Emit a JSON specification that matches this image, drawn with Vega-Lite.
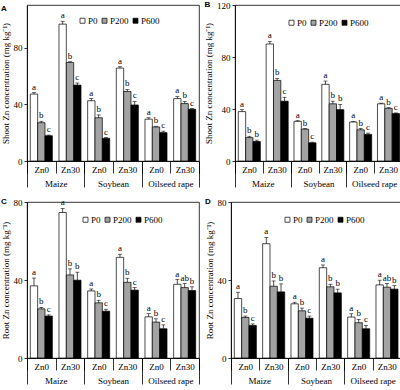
{
  "$schema": "https://vega.github.io/schema/vega-lite/v6.json",
  "padding": {"left": 0, "top": 0, "right": 2, "bottom": 0},
  "background": "white",
  "datasets": {
    "A": [
      {"sp":"Maize","g":"Maize|Zn0","P":"P0","v":47.2,"hi":48.2,"l":"a"},
      {"sp":"Maize","g":"Maize|Zn0","P":"P200","v":27,"hi":28,"l":"b"},
      {"sp":"Maize","g":"Maize|Zn0","P":"P600","v":17.8,"hi":18.3,"l":"c"},
      {"sp":"Maize","g":"Maize|Zn30","P":"P0","v":96.5,"hi":98.5,"l":"a"},
      {"sp":"Maize","g":"Maize|Zn30","P":"P200","v":69.5,"hi":70,"l":"b"},
      {"sp":"Maize","g":"Maize|Zn30","P":"P600","v":53.5,"hi":55,"l":"c"},
      {"sp":"Soybean","g":"Soybean|Zn0","P":"P0","v":42.5,"hi":44,"l":"a"},
      {"sp":"Soybean","g":"Soybean|Zn0","P":"P200","v":30.5,"hi":32.5,"l":"b"},
      {"sp":"Soybean","g":"Soybean|Zn0","P":"P600","v":16,"hi":16.5,"l":"c"},
      {"sp":"Soybean","g":"Soybean|Zn30","P":"P0","v":65.5,"hi":66.5,"l":"a"},
      {"sp":"Soybean","g":"Soybean|Zn30","P":"P200","v":49,"hi":50.5,"l":"b"},
      {"sp":"Soybean","g":"Soybean|Zn30","P":"P600","v":39.5,"hi":42,"l":"c"},
      {"sp":"Oilseed rape","g":"Oilseed rape|Zn0","P":"P0","v":29.5,"hi":30.5,"l":"a"},
      {"sp":"Oilseed rape","g":"Oilseed rape|Zn0","P":"P200","v":24,"hi":24.5,"l":"b"},
      {"sp":"Oilseed rape","g":"Oilseed rape|Zn0","P":"P600","v":20,"hi":21,"l":"c"},
      {"sp":"Oilseed rape","g":"Oilseed rape|Zn30","P":"P0","v":44,"hi":45.5,"l":"a"},
      {"sp":"Oilseed rape","g":"Oilseed rape|Zn30","P":"P200","v":40.5,"hi":42,"l":"b"},
      {"sp":"Oilseed rape","g":"Oilseed rape|Zn30","P":"P600","v":36.5,"hi":37,"l":"c"}
    ],
    "B": [
      {"sp":"Maize","g":"Maize|Zn0","P":"P0","v":38,"hi":39.5,"l":"a"},
      {"sp":"Maize","g":"Maize|Zn0","P":"P200","v":18,"hi":19,"l":"b"},
      {"sp":"Maize","g":"Maize|Zn0","P":"P600","v":15,"hi":16,"l":"b"},
      {"sp":"Maize","g":"Maize|Zn30","P":"P0","v":90,"hi":92,"l":"a"},
      {"sp":"Maize","g":"Maize|Zn30","P":"P200","v":62,"hi":63.5,"l":"b"},
      {"sp":"Maize","g":"Maize|Zn30","P":"P600","v":46,"hi":49,"l":"c"},
      {"sp":"Soybean","g":"Soybean|Zn0","P":"P0","v":30.5,"hi":31,"l":"a"},
      {"sp":"Soybean","g":"Soybean|Zn0","P":"P200","v":24.5,"hi":25,"l":"b"},
      {"sp":"Soybean","g":"Soybean|Zn0","P":"P600","v":14,"hi":14.5,"l":"c"},
      {"sp":"Soybean","g":"Soybean|Zn30","P":"P0","v":59,"hi":61.5,"l":"a"},
      {"sp":"Soybean","g":"Soybean|Zn30","P":"P200","v":44,"hi":46,"l":"b"},
      {"sp":"Soybean","g":"Soybean|Zn30","P":"P600","v":39.5,"hi":43.5,"l":"b"},
      {"sp":"Oilseed rape","g":"Oilseed rape|Zn0","P":"P0","v":30,"hi":30.5,"l":"a"},
      {"sp":"Oilseed rape","g":"Oilseed rape|Zn0","P":"P200","v":24,"hi":25,"l":"b"},
      {"sp":"Oilseed rape","g":"Oilseed rape|Zn0","P":"P600","v":20.5,"hi":21.5,"l":"c"},
      {"sp":"Oilseed rape","g":"Oilseed rape|Zn30","P":"P0","v":44,"hi":44.5,"l":"a"},
      {"sp":"Oilseed rape","g":"Oilseed rape|Zn30","P":"P200","v":40.5,"hi":41,"l":"b"},
      {"sp":"Oilseed rape","g":"Oilseed rape|Zn30","P":"P600","v":36.5,"hi":37,"l":"c"}
    ],
    "C": [
      {"sp":"Maize","g":"Maize|Zn0","P":"P0","v":37,"hi":41,"l":"a"},
      {"sp":"Maize","g":"Maize|Zn0","P":"P200","v":25.2,"hi":25.9,"l":"b"},
      {"sp":"Maize","g":"Maize|Zn0","P":"P600","v":21.5,"hi":22.1,"l":"c"},
      {"sp":"Maize","g":"Maize|Zn30","P":"P0","v":74.6,"hi":76.7,"l":"a"},
      {"sp":"Maize","g":"Maize|Zn30","P":"P200","v":42.6,"hi":45.7,"l":"b"},
      {"sp":"Maize","g":"Maize|Zn30","P":"P600","v":39.9,"hi":44,"l":"b"},
      {"sp":"Soybean","g":"Soybean|Zn0","P":"P0","v":34.4,"hi":35.4,"l":"a"},
      {"sp":"Soybean","g":"Soybean|Zn0","P":"P200","v":28.3,"hi":29.6,"l":"b"},
      {"sp":"Soybean","g":"Soybean|Zn0","P":"P600","v":24,"hi":25,"l":"c"},
      {"sp":"Soybean","g":"Soybean|Zn30","P":"P0","v":51.6,"hi":53.2,"l":"a"},
      {"sp":"Soybean","g":"Soybean|Zn30","P":"P200","v":38.8,"hi":40.9,"l":"b"},
      {"sp":"Soybean","g":"Soybean|Zn30","P":"P600","v":34.8,"hi":36.1,"l":"c"},
      {"sp":"Oilseed rape","g":"Oilseed rape|Zn0","P":"P0","v":21.1,"hi":22.8,"l":"a"},
      {"sp":"Oilseed rape","g":"Oilseed rape|Zn0","P":"P200","v":18.4,"hi":20.1,"l":"b"},
      {"sp":"Oilseed rape","g":"Oilseed rape|Zn0","P":"P600","v":15,"hi":17,"l":"c"},
      {"sp":"Oilseed rape","g":"Oilseed rape|Zn30","P":"P0","v":37.8,"hi":40.2,"l":"a"},
      {"sp":"Oilseed rape","g":"Oilseed rape|Zn30","P":"P200","v":36.1,"hi":38.2,"l":"ab"},
      {"sp":"Oilseed rape","g":"Oilseed rape|Zn30","P":"P600","v":34.6,"hi":36.5,"l":"b"}
    ],
    "D": [
      {"sp":"Maize","g":"Maize|Zn0","P":"P0","v":30.5,"hi":33.7,"l":"a"},
      {"sp":"Maize","g":"Maize|Zn0","P":"P200","v":20.8,"hi":21.5,"l":"b"},
      {"sp":"Maize","g":"Maize|Zn0","P":"P600","v":16.7,"hi":17.5,"l":"c"},
      {"sp":"Maize","g":"Maize|Zn30","P":"P0","v":58.6,"hi":61.8,"l":"a"},
      {"sp":"Maize","g":"Maize|Zn30","P":"P200","v":36.8,"hi":39.5,"l":"b"},
      {"sp":"Maize","g":"Maize|Zn30","P":"P600","v":33.9,"hi":38,"l":"b"},
      {"sp":"Soybean","g":"Soybean|Zn0","P":"P0","v":27.8,"hi":28.6,"l":"a"},
      {"sp":"Soybean","g":"Soybean|Zn0","P":"P200","v":24.2,"hi":25.6,"l":"b"},
      {"sp":"Soybean","g":"Soybean|Zn0","P":"P600","v":20.4,"hi":21.5,"l":"c"},
      {"sp":"Soybean","g":"Soybean|Zn30","P":"P0","v":46.3,"hi":47.7,"l":"a"},
      {"sp":"Soybean","g":"Soybean|Zn30","P":"P200","v":36.5,"hi":37.8,"l":"b"},
      {"sp":"Soybean","g":"Soybean|Zn30","P":"P600","v":33.4,"hi":35.3,"l":"b"},
      {"sp":"Oilseed rape","g":"Oilseed rape|Zn0","P":"P0","v":21,"hi":22.7,"l":"a"},
      {"sp":"Oilseed rape","g":"Oilseed rape|Zn0","P":"P200","v":18.1,"hi":19.8,"l":"b"},
      {"sp":"Oilseed rape","g":"Oilseed rape|Zn0","P":"P600","v":15,"hi":16.7,"l":"c"},
      {"sp":"Oilseed rape","g":"Oilseed rape|Zn30","P":"P0","v":37.5,"hi":39.9,"l":"a"},
      {"sp":"Oilseed rape","g":"Oilseed rape|Zn30","P":"P200","v":36.3,"hi":38.2,"l":"ab"},
      {"sp":"Oilseed rape","g":"Oilseed rape|Zn30","P":"P600","v":35.3,"hi":37.1,"l":"b"}
    ]
  },
  "vconcat": [
    {
      "hconcat": [
        {
          "width": 172, "height": 156,
          "title": {"text": "A"},
          "data": {"name": "A"},
          "layer": [
            {"layer": [
              {"mark": {"type": "bar", "stroke": "black", "strokeWidth": 0.7},
               "encoding": {
                 "x": {"field": "g", "type": "nominal", "sort": ["Maize|Zn0","Maize|Zn30","Soybean|Zn0","Soybean|Zn30","Oilseed rape|Zn0","Oilseed rape|Zn30"], "scale": {"paddingInner": 0, "paddingOuter": 0}, "axis": {"title": null, "labelExpr": "split(datum.label,'|')[1]", "labelAngle": 0, "tickBand": "extent", "tickSize": 12, "labelPadding": -8}},
                 "xOffset": {"field": "P", "type": "nominal", "sort": ["P0","P200","P600"], "scale": {"paddingInner": 0, "paddingOuter": 0.45}},
                 "y": {"field": "v", "type": "quantitative", "title": "Shoot Zn concentration (mg kg⁻¹)", "scale": {"domain": [0, 110], "nice": false}, "axis": {"values": [0,20,40,60,80,100]}},
                 "fill": {"field": "P", "type": "nominal", "scale": {"domain": ["P0","P200","P600"], "range": ["white","#a3a3a3","black"]}, "legend": {"title": null, "orient": "none", "legendX": 51, "legendY": 11, "direction": "horizontal"}}
               }},
              {"mark": {"type": "rule", "color": "black", "strokeWidth": 0.7},
               "encoding": {
                 "x": {"field": "g", "type": "nominal", "sort": ["Maize|Zn0","Maize|Zn30","Soybean|Zn0","Soybean|Zn30","Oilseed rape|Zn0","Oilseed rape|Zn30"]},
                 "xOffset": {"field": "P", "type": "nominal", "sort": ["P0","P200","P600"]},
                 "y": {"field": "v", "type": "quantitative", "title": "Shoot Zn concentration (mg kg⁻¹)", "scale": {"domain": [0, 110], "nice": false}},
                 "y2": {"field": "hi"}
               }},
              {"mark": {"type": "tick", "color": "black", "size": 4, "thickness": 0.8},
               "encoding": {
                 "x": {"field": "g", "type": "nominal", "sort": ["Maize|Zn0","Maize|Zn30","Soybean|Zn0","Soybean|Zn30","Oilseed rape|Zn0","Oilseed rape|Zn30"]},
                 "xOffset": {"field": "P", "type": "nominal", "sort": ["P0","P200","P600"]},
                 "y": {"field": "hi", "type": "quantitative", "title": "Shoot Zn concentration (mg kg⁻¹)", "scale": {"domain": [0, 110], "nice": false}}
               }},
              {"mark": {"type": "text", "baseline": "bottom", "dy": -1, "fontSize": 9},
               "encoding": {
                 "x": {"field": "g", "type": "nominal", "sort": ["Maize|Zn0","Maize|Zn30","Soybean|Zn0","Soybean|Zn30","Oilseed rape|Zn0","Oilseed rape|Zn30"]},
                 "xOffset": {"field": "P", "type": "nominal", "sort": ["P0","P200","P600"]},
                 "y": {"field": "hi", "type": "quantitative", "title": "Shoot Zn concentration (mg kg⁻¹)", "scale": {"domain": [0, 110], "nice": false}},
                 "text": {"field": "l"},
                 "color": {"value": "#000000"}
               }}
            ]},
            {"mark": {"type": "text", "text": " "},
             "encoding": {
               "x": {"field": "sp", "type": "nominal", "sort": ["Maize","Soybean","Oilseed rape"], "scale": {"paddingInner": 0, "paddingOuter": 0}, "axis": {"title": null, "orient": "bottom", "labelAngle": 0, "tickBand": "extent", "tickSize": 26, "labelPadding": -8, "domain": false}}
             }}
          ],
          "resolve": {"scale": {"x": "independent"}}
        },
        {
          "width": 167, "height": 156,
          "title": {"text": "B"},
          "data": {"name": "B"},
          "layer": [
            {"layer": [
              {"mark": {"type": "bar", "stroke": "black", "strokeWidth": 0.7},
               "encoding": {
                 "x": {"field": "g", "type": "nominal", "sort": ["Maize|Zn0","Maize|Zn30","Soybean|Zn0","Soybean|Zn30","Oilseed rape|Zn0","Oilseed rape|Zn30"], "scale": {"paddingInner": 0, "paddingOuter": 0}, "axis": {"title": null, "labelExpr": "split(datum.label,'|')[1]", "labelAngle": 0, "tickBand": "extent", "tickSize": 12, "labelPadding": -8}},
                 "xOffset": {"field": "P", "type": "nominal", "sort": ["P0","P200","P600"], "scale": {"paddingInner": 0, "paddingOuter": 0.45}},
                 "y": {"field": "v", "type": "quantitative", "title": "Shoot Zn concentration (mg kg⁻¹)", "scale": {"domain": [0, 120], "nice": false}, "axis": {"values": [0,20,40,60,80,100,120]}},
                 "fill": {"field": "P", "type": "nominal", "scale": {"domain": ["P0","P200","P600"], "range": ["white","#a3a3a3","black"]}, "legend": {"title": null, "orient": "none", "legendX": 52, "legendY": 13, "direction": "horizontal"}}
               }},
              {"mark": {"type": "rule", "color": "black", "strokeWidth": 0.7},
               "encoding": {
                 "x": {"field": "g", "type": "nominal", "sort": ["Maize|Zn0","Maize|Zn30","Soybean|Zn0","Soybean|Zn30","Oilseed rape|Zn0","Oilseed rape|Zn30"]},
                 "xOffset": {"field": "P", "type": "nominal", "sort": ["P0","P200","P600"]},
                 "y": {"field": "v", "type": "quantitative", "title": "Shoot Zn concentration (mg kg⁻¹)", "scale": {"domain": [0, 120], "nice": false}},
                 "y2": {"field": "hi"}
               }},
              {"mark": {"type": "tick", "color": "black", "size": 4, "thickness": 0.8},
               "encoding": {
                 "x": {"field": "g", "type": "nominal", "sort": ["Maize|Zn0","Maize|Zn30","Soybean|Zn0","Soybean|Zn30","Oilseed rape|Zn0","Oilseed rape|Zn30"]},
                 "xOffset": {"field": "P", "type": "nominal", "sort": ["P0","P200","P600"]},
                 "y": {"field": "hi", "type": "quantitative", "title": "Shoot Zn concentration (mg kg⁻¹)", "scale": {"domain": [0, 120], "nice": false}}
               }},
              {"mark": {"type": "text", "baseline": "bottom", "dy": -1, "fontSize": 9},
               "encoding": {
                 "x": {"field": "g", "type": "nominal", "sort": ["Maize|Zn0","Maize|Zn30","Soybean|Zn0","Soybean|Zn30","Oilseed rape|Zn0","Oilseed rape|Zn30"]},
                 "xOffset": {"field": "P", "type": "nominal", "sort": ["P0","P200","P600"]},
                 "y": {"field": "hi", "type": "quantitative", "title": "Shoot Zn concentration (mg kg⁻¹)", "scale": {"domain": [0, 120], "nice": false}},
                 "text": {"field": "l"},
                 "color": {"value": "#000000"}
               }}
            ]},
            {"mark": {"type": "text", "text": " "},
             "encoding": {
               "x": {"field": "sp", "type": "nominal", "sort": ["Maize","Soybean","Oilseed rape"], "scale": {"paddingInner": 0, "paddingOuter": 0}, "axis": {"title": null, "orient": "bottom", "labelAngle": 0, "tickBand": "extent", "tickSize": 26, "labelPadding": -8, "domain": false}}
             }}
          ],
          "resolve": {"scale": {"x": "independent"}}
        }
      ],
      "spacing": 4,
      "resolve": {"scale": {"fill": "independent"}, "legend": {"fill": "independent"}}
    },
    {
      "hconcat": [
        {
          "width": 172, "height": 156,
          "title": {"text": "C"},
          "data": {"name": "C"},
          "layer": [
            {"layer": [
              {"mark": {"type": "bar", "stroke": "black", "strokeWidth": 0.7},
               "encoding": {
                 "x": {"field": "g", "type": "nominal", "sort": ["Maize|Zn0","Maize|Zn30","Soybean|Zn0","Soybean|Zn30","Oilseed rape|Zn0","Oilseed rape|Zn30"], "scale": {"paddingInner": 0, "paddingOuter": 0}, "axis": {"title": null, "labelExpr": "split(datum.label,'|')[1]", "labelAngle": 0, "tickBand": "extent", "tickSize": 12, "labelPadding": -8}},
                 "xOffset": {"field": "P", "type": "nominal", "sort": ["P0","P200","P600"], "scale": {"paddingInner": 0, "paddingOuter": 0.45}},
                 "y": {"field": "v", "type": "quantitative", "title": "Root Zn concentration (mg kg⁻¹)", "scale": {"domain": [0, 80], "nice": false}, "axis": {"values": [0,20,40,60,80]}},
                 "fill": {"field": "P", "type": "nominal", "scale": {"domain": ["P0","P200","P600"], "range": ["white","#a3a3a3","black"]}, "legend": {"title": null, "orient": "none", "legendX": 54, "legendY": 13, "direction": "horizontal"}}
               }},
              {"mark": {"type": "rule", "color": "black", "strokeWidth": 0.7},
               "encoding": {
                 "x": {"field": "g", "type": "nominal", "sort": ["Maize|Zn0","Maize|Zn30","Soybean|Zn0","Soybean|Zn30","Oilseed rape|Zn0","Oilseed rape|Zn30"]},
                 "xOffset": {"field": "P", "type": "nominal", "sort": ["P0","P200","P600"]},
                 "y": {"field": "v", "type": "quantitative", "title": "Root Zn concentration (mg kg⁻¹)", "scale": {"domain": [0, 80], "nice": false}},
                 "y2": {"field": "hi"}
               }},
              {"mark": {"type": "tick", "color": "black", "size": 4, "thickness": 0.8},
               "encoding": {
                 "x": {"field": "g", "type": "nominal", "sort": ["Maize|Zn0","Maize|Zn30","Soybean|Zn0","Soybean|Zn30","Oilseed rape|Zn0","Oilseed rape|Zn30"]},
                 "xOffset": {"field": "P", "type": "nominal", "sort": ["P0","P200","P600"]},
                 "y": {"field": "hi", "type": "quantitative", "title": "Root Zn concentration (mg kg⁻¹)", "scale": {"domain": [0, 80], "nice": false}}
               }},
              {"mark": {"type": "text", "baseline": "bottom", "dy": -1, "fontSize": 9},
               "encoding": {
                 "x": {"field": "g", "type": "nominal", "sort": ["Maize|Zn0","Maize|Zn30","Soybean|Zn0","Soybean|Zn30","Oilseed rape|Zn0","Oilseed rape|Zn30"]},
                 "xOffset": {"field": "P", "type": "nominal", "sort": ["P0","P200","P600"]},
                 "y": {"field": "hi", "type": "quantitative", "title": "Root Zn concentration (mg kg⁻¹)", "scale": {"domain": [0, 80], "nice": false}},
                 "text": {"field": "l"},
                 "color": {"value": "#000000"}
               }}
            ]},
            {"mark": {"type": "text", "text": " "},
             "encoding": {
               "x": {"field": "sp", "type": "nominal", "sort": ["Maize","Soybean","Oilseed rape"], "scale": {"paddingInner": 0, "paddingOuter": 0}, "axis": {"title": null, "orient": "bottom", "labelAngle": 0, "tickBand": "extent", "tickSize": 26, "labelPadding": -8, "domain": false}}
             }}
          ],
          "resolve": {"scale": {"x": "independent"}}
        },
        {
          "width": 170, "height": 156,
          "title": {"text": "D"},
          "data": {"name": "D"},
          "layer": [
            {"layer": [
              {"mark": {"type": "bar", "stroke": "black", "strokeWidth": 0.7},
               "encoding": {
                 "x": {"field": "g", "type": "nominal", "sort": ["Maize|Zn0","Maize|Zn30","Soybean|Zn0","Soybean|Zn30","Oilseed rape|Zn0","Oilseed rape|Zn30"], "scale": {"paddingInner": 0, "paddingOuter": 0}, "axis": {"title": null, "labelExpr": "split(datum.label,'|')[1]", "labelAngle": 0, "tickBand": "extent", "tickSize": 12, "labelPadding": -8}},
                 "xOffset": {"field": "P", "type": "nominal", "sort": ["P0","P200","P600"], "scale": {"paddingInner": 0, "paddingOuter": 0.45}},
                 "y": {"field": "v", "type": "quantitative", "title": "Root Zn concentration (mg kg⁻¹)", "scale": {"domain": [0, 80], "nice": false}, "axis": {"values": [0,20,40,60,80]}},
                 "fill": {"field": "P", "type": "nominal", "scale": {"domain": ["P0","P200","P600"], "range": ["white","#a3a3a3","black"]}, "legend": {"title": null, "orient": "none", "legendX": 52, "legendY": 13, "direction": "horizontal"}}
               }},
              {"mark": {"type": "rule", "color": "black", "strokeWidth": 0.7},
               "encoding": {
                 "x": {"field": "g", "type": "nominal", "sort": ["Maize|Zn0","Maize|Zn30","Soybean|Zn0","Soybean|Zn30","Oilseed rape|Zn0","Oilseed rape|Zn30"]},
                 "xOffset": {"field": "P", "type": "nominal", "sort": ["P0","P200","P600"]},
                 "y": {"field": "v", "type": "quantitative", "title": "Root Zn concentration (mg kg⁻¹)", "scale": {"domain": [0, 80], "nice": false}},
                 "y2": {"field": "hi"}
               }},
              {"mark": {"type": "tick", "color": "black", "size": 4, "thickness": 0.8},
               "encoding": {
                 "x": {"field": "g", "type": "nominal", "sort": ["Maize|Zn0","Maize|Zn30","Soybean|Zn0","Soybean|Zn30","Oilseed rape|Zn0","Oilseed rape|Zn30"]},
                 "xOffset": {"field": "P", "type": "nominal", "sort": ["P0","P200","P600"]},
                 "y": {"field": "hi", "type": "quantitative", "title": "Root Zn concentration (mg kg⁻¹)", "scale": {"domain": [0, 80], "nice": false}}
               }},
              {"mark": {"type": "text", "baseline": "bottom", "dy": -1, "fontSize": 9},
               "encoding": {
                 "x": {"field": "g", "type": "nominal", "sort": ["Maize|Zn0","Maize|Zn30","Soybean|Zn0","Soybean|Zn30","Oilseed rape|Zn0","Oilseed rape|Zn30"]},
                 "xOffset": {"field": "P", "type": "nominal", "sort": ["P0","P200","P600"]},
                 "y": {"field": "hi", "type": "quantitative", "title": "Root Zn concentration (mg kg⁻¹)", "scale": {"domain": [0, 80], "nice": false}},
                 "text": {"field": "l"},
                 "color": {"value": "#000000"}
               }}
            ]},
            {"mark": {"type": "text", "text": " "},
             "encoding": {
               "x": {"field": "sp", "type": "nominal", "sort": ["Maize","Soybean","Oilseed rape"], "scale": {"paddingInner": 0, "paddingOuter": 0}, "axis": {"title": null, "orient": "bottom", "labelAngle": 0, "tickBand": "extent", "tickSize": 26, "labelPadding": -8, "domain": false}}
             }}
          ],
          "resolve": {"scale": {"x": "independent"}}
        }
      ],
      "spacing": 4,
      "resolve": {"scale": {"fill": "independent"}, "legend": {"fill": "independent"}}
    }
  ],
  "spacing": 8,
  "resolve": {"scale": {"fill": "independent"}, "legend": {"fill": "independent"}},
  "config": {
    "font": "Liberation Serif",
    "view": {"stroke": "black", "strokeWidth": 0.8},
    "axis": {"grid": false, "labelFontSize": 9, "titleFontSize": 9, "titleFontWeight": "normal", "labelColor": "black", "titleColor": "black", "domainColor": "black", "tickColor": "black", "domainWidth": 0.8, "tickWidth": 0.8},
    "axisY": {"tickSize": 3, "labelPadding": 2, "titlePadding": 3},
    "legend": {"labelFontSize": 9, "labelColor": "black", "symbolType": "square", "symbolSize": 25, "symbolStrokeColor": "black", "symbolStrokeWidth": 0.7, "columnPadding": 2, "labelOffset": 1, "padding": 0},
    "title": {"font": "Liberation Sans", "fontSize": 8, "fontWeight": "bold", "anchor": "start", "frame": "bounds", "offset": -8, "color": "black"}
  }
}
